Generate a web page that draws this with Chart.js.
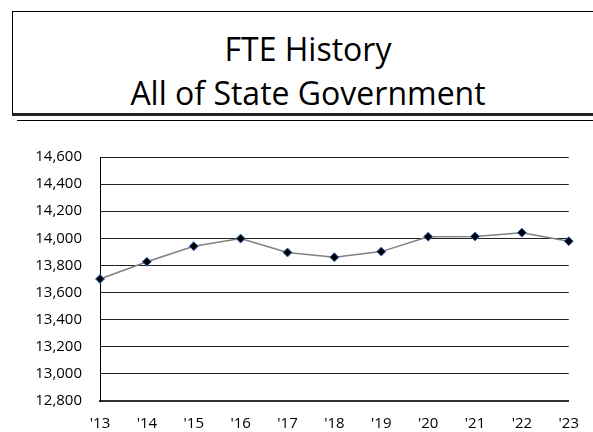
<!DOCTYPE html>
<html lang="en">
<head>
    <meta charset="UTF-8">
    <title>FTE History</title>
    <script src="https://cdn.jsdelivr.net/npm/chart.js"></script>
    <style>
        body {
            margin: 0;
            padding: 0;
            background-color: #fff;
            width: 593px;
            height: 432px;
            overflow: hidden;
            position: relative;
            font-family: "Open Sans", sans-serif;
        }
        .title-box {
            position: absolute;
            left: 12px;
            top: 11px;
            width: 600px;
            height: 101px;
            border-left: 1px solid #000;
            border-top: 1px solid #000;
            border-bottom: 3px solid #222;
            text-align: center;
            color: #000;
        }
        .title-box div {
            position: absolute;
            width: 590px;
            left: 0;
            font-size: 32px;
            line-height: 40px;
        }
        .rule {
            position: absolute;
            left: 17px;
            top: 120px;
            width: 580px;
            border-top: 1px solid #000;
        }
        .chart-wrap {
            position: absolute;
            left: 0;
            top: 130px;
            width: 593px;
            height: 302px;
        }
    </style>
</head>
<body>
    <div class="title-box">
        <div style="top: 17px;">FTE History</div>
        <div style="top: 61px;">All of State Government</div>
    </div>
    <div class="rule"></div>
    <div class="chart-wrap">
        <canvas id="fteChart"></canvas>
    </div>

    <script>
        var years = ["'13", "'14", "'15", "'16", "'17", "'18", "'19", "'20", "'21", "'22", "'23"];
        var fteValues = [13700, 13827, 13942, 13998, 13896, 13860, 13902, 14012, 14014, 14042, 13979];
        var yMin = 12800;
        var yMax = 14600;
        var yStep = 200;

        var ctx = document.getElementById('fteChart').getContext('2d');
        new Chart(ctx, {
            type: 'line',
            data: {
                labels: years,
                datasets: [{
                    data: fteValues,
                    borderColor: '#808080',
                    borderWidth: 1.5,
                    pointStyle: 'rectRot',
                    pointRadius: 4.5,
                    pointBackgroundColor: '#000',
                    pointBorderColor: '#3a6fd0',
                    pointBorderWidth: 1,
                    tension: 0
                }]
            },
            options: {
                responsive: true,
                maintainAspectRatio: false,
                animation: false,
                layout: { padding: { top: 25, right: 21, bottom: 0, left: 0 } },
                plugins: {
                    legend: { display: false },
                    tooltip: { enabled: false }
                },
                scales: {
                    x: {
                        offset: false,
                        afterFit: function(scale) { scale.height = 31; },
                        grid: { display: false, drawTicks: false },
                        border: { display: true, color: '#333', width: 2 },
                        ticks: {
                            padding: 14,
                            color: '#000',
                            font: { family: 'Open Sans', size: 15 },
                            maxRotation: 0,
                            autoSkip: false
                        }
                    },
                    y: {
                        min: yMin,
                        max: yMax,
                        afterFit: function(scale) { scale.width = 100; },
                        grid: { color: '#222', lineWidth: 1, drawTicks: false },
                        border: { display: true, color: '#000', width: 1 },
                        ticks: {
                            stepSize: yStep,
                            padding: 18,
                            color: '#000',
                            font: { family: 'Open Sans', size: 15 },
                            callback: function(v) { return v.toLocaleString('en-US'); }
                        }
                    }
                }
            }
        });
    </script>
</body>
</html>
